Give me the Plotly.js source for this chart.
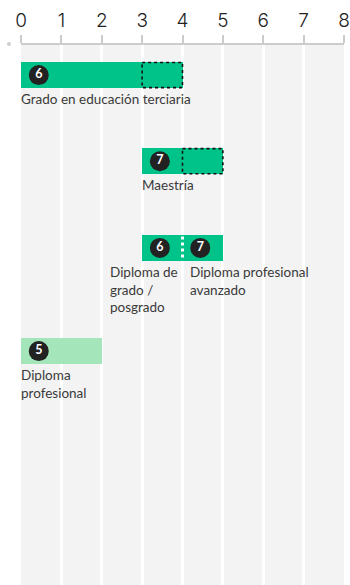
<!DOCTYPE html>
<html>
<head>
<meta charset="utf-8">
<script src="https://cdn.plot.ly/plotly-3.0.1.min.js"></script>
<style>
  html, body { margin: 0; padding: 0; background: #fff; }
  #chart { width: 350px; height: 585px; }
</style>
</head>
<body>
<div id="chart"></div>
<script>
// programmes, NQF level and years of study
var programs = ["Grado en educación terciaria", "Maestría", "Diploma de<br>grado /<br>posgrado", "Diploma profesional<br>avanzado", "Diploma<br>profesional"];
var levels = [6, 7, 6, 7, 5];
var startYears = [0, 3, 3, 4, 0];
var endYears = [4, 5, 4, 5, 2];
var optionalFrom = [3, 4, null, null, null];
var rowOf = [0, 1, 2, 2, 3];

// layout stuff
var rowCenters = [30, 116, 202.5, 305.5];
var barH = 26.5;
var green = '#00c389';
var lightGreen = '#a4e6ba';
var barColors = [green, green, green, green, lightGreen];

var ys = rowOf.map(function(r){ return rowCenters[r]; });
var lens = endYears.map(function(e, i){ return e - startYears[i]; });

var bars = {
  type: 'bar',
  orientation: 'h',
  base: startYears,
  x: lens,
  y: ys,
  width: barH,
  marker: { color: barColors, line: { width: 0 } },
  hoverinfo: 'skip'
};

var dots = {
  type: 'scatter',
  mode: 'markers+text',
  x: startYears.map(function(s){ return s + 0.44; }),
  y: ys,
  text: levels.map(String),
  textposition: 'middle center',
  textfont: { color: 'white', size: 12.5, family: 'Lato', weight: 'bold' },
  marker: { size: 20, color: '#222222', line: { width: 0 } },
  hoverinfo: 'skip'
};

var shapes = [];
for (var i = 0; i < programs.length; i++) {
  if (optionalFrom[i] !== null) {
    shapes.push({
      type: 'rect', xref: 'x', yref: 'y',
      x0: optionalFrom[i], x1: endYears[i],
      y0: ys[i] - barH / 2 + 0.7, y1: ys[i] + barH / 2 - 0.7,
      line: { color: '#111', width: 1.6, dash: 'dot' }
    });
  }
}
// white dotted divider between the two diplomas
shapes.push({
  type: 'line', xref: 'x', yref: 'y',
  x0: endYears[2], x1: endYears[2],
  y0: rowCenters[2] - barH / 2 + 2, y1: rowCenters[2] + barH / 2 - 2,
  line: { color: 'white', width: 3, dash: 'dot' }
});
// little dot left of axis
shapes.push({
  type: 'circle', xref: 'paper', yref: 'paper',
  xsizemode: 'pixel', ysizemode: 'pixel', xanchor: 0, yanchor: 1,
  x0: -14, x1: -10, y0: -1, y1: 3,
  fillcolor: '#cfcfcf', line: { width: 0 }
});

var annotations = [];
for (var j = 0; j < programs.length; j++) {
  var a = {
    xref: 'x', yref: 'y',
    x: startYears[j], y: ys[j] + barH / 2,
    text: programs[j],
    showarrow: false,
    xanchor: 'left', yanchor: 'top', align: 'left',
    xshift: -2, yshift: -1,
    font: { family: 'Lato', size: 13.5, color: '#3a3a3a' }
  };
  if (j == 2) { a.x = endYears[j]; a.xanchor = 'right'; a.xshift = -3; }
  if (j == 3) { a.xshift = 5; }
  annotations.push(a);
}

var layout = {
  width: 350, height: 585,
  margin: { l: 21, r: 6, t: 45, b: 0 },
  paper_bgcolor: 'white',
  plot_bgcolor: '#f3f3f3',
  showlegend: false,
  bargap: 0,
  xaxis: {
    range: [0, 8], side: 'top',
    tickvals: [0, 1, 2, 3, 4, 5, 6, 7, 8],
    ticks: 'outside', ticklen: 8, tickwidth: 2, tickcolor: '#cccccc',
    showline: true, linecolor: '#cccccc', linewidth: 2,
    showgrid: true, gridcolor: 'white', gridwidth: 3,
    zeroline: false, fixedrange: true,
    tickfont: { family: 'Inter', size: 19, color: '#222', weight: 300 }
  },
  yaxis: {
    range: [539, 0], visible: false, showgrid: false, zeroline: false, fixedrange: true
  },
  shapes: shapes,
  annotations: annotations
};

Plotly.newPlot('chart', [bars, dots], layout, { displayModeBar: false, staticPlot: true });
</script>
</body>
</html>
